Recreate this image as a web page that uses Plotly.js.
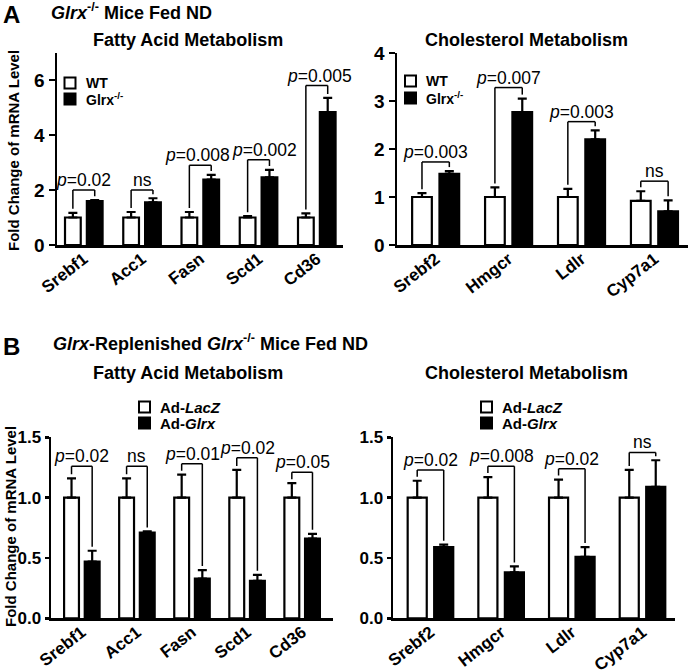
<!DOCTYPE html>
<html><head><meta charset="utf-8">
<script src="https://cdn.plot.ly/plotly-3.0.1.min.js"></script>
<style>html,body{margin:0;padding:0;background:#fff}#chart{width:693px;height:671px}</style>
</head><body><div id="chart"></div>
<script>
// ---------- data ----------
const faGenes = ['Srebf1','Acc1','Fasn','Scd1','Cd36'];
const cholGenes = ['Srebf2','Hmgcr','Ldlr','Cyp7a1'];

// Panel A: Glrx-/- mice fed ND
const aFaWT = [1.0, 1.0, 1.0, 1.0, 1.0];
const aFaWTsem = [0.17, 0.2, 0.2, 0.05, 0.15];
const aFaKO = [1.6, 1.55, 2.38, 2.46, 4.83];
const aFaKOsem = [0.03, 0.15, 0.17, 0.27, 0.52];
const aFaP = ['p=0.02', 'ns', 'p=0.008', 'p=0.002', 'p=0.005'];
const aFaBracket = [2.0, 2.0, 2.9, 3.1, 5.8];

const aChWT = [1.0, 1.0, 1.0, 0.92];
const aChWTsem = [0.08, 0.2, 0.17, 0.2];
const aChKO = [1.48, 2.77, 2.2, 0.7];
const aChKOsem = [0.06, 0.28, 0.19, 0.23];
const aChP = ['p=0.003', 'p=0.007', 'p=0.003', 'ns'];
const aChBracket = [1.73, 3.28, 2.57, 1.33];

// Panel B: Glrx-replenished Glrx-/- mice fed ND
const bFaLacZ = [1.0, 1.0, 1.0, 1.0, 1.0];
const bFaLacZsem = [0.16, 0.16, 0.19, 0.23, 0.12];
const bFaGlrx = [0.47, 0.71, 0.33, 0.31, 0.66];
const bFaGlrxsem = [0.09, 0.01, 0.07, 0.05, 0.04];
const bFaP = ['p=0.02', 'ns', 'p=0.01', 'p=0.02', 'p=0.05'];
const bFaBracket = [1.26, 1.26, 1.28, 1.33, 1.21];

const bChLacZ = [1.0, 1.0, 1.0, 1.0];
const bChLacZsem = [0.14, 0.17, 0.15, 0.23];
const bChGlrx = [0.59, 0.38, 0.51, 1.09];
const bChGlrxsem = [0.02, 0.05, 0.08, 0.22];
const bChP = ['p=0.02', 'p=0.008', 'p=0.02', 'ns'];
const bChBracket = [1.23, 1.26, 1.24, 1.375];

const aTicks = [0, 2, 4, 6];
const aChTicks = [0, 1, 2, 3, 4];
const bTicks = [0, 0.5, 1.0, 1.5];
const bTickText = ['0.0', '0.5', '1.0', '1.5'];

const aLegend = ['WT', 'Glrx<sup>-/-</sup>'];
const bLegend = ['Ad-<i>LacZ</i>', 'Ad-<i>Glrx</i>'];

const panelATitle = '<i>Glrx</i><sup>-/-</sup> Mice Fed ND';
const panelBTitle = '<i>Glrx</i>-Replenished <i>Glrx</i><sup>-/-</sup> Mice Fed ND';
const faTitle = 'Fatty Acid Metabolism';
const chTitle = 'Cholesterol Metabolism';
const yTitle = 'Fold Change of mRNA Level';

// ---------- layout helpers ----------
const W = 693, H = 671;
const FONT = 'Liberation Sans, Arial, Helvetica, sans-serif';
const BW = 0.27, SEP = 0.375;

const panels = [
  {genes: faGenes, c: aFaWT, cE: aFaWTsem, t: aFaKO, tE: aFaKOsem, p: aFaP, br: aFaBracket,
   leg: aLegend, xPx: [57, 343], yPx: [245, 52.5], yRange: [0, 7], xRange: [-0.46, 4.45],
   ticks: aTicks, tickText: aTicks.map(String), tf: 19, tl: 6, legPx: [64.5, 83, 99], legFont: 14,
   nudge: [0, 0, -0.04, 0.1, 0.05]},
  {genes: cholGenes, c: aChWT, cE: aChWTsem, t: aChKO, tE: aChKOsem, p: aChP, br: aChBracket,
   leg: aLegend, xPx: [397, 688], yPx: [245, 53], yRange: [0, 4], xRange: [-0.53, 3.46],
   ticks: aChTicks, tickText: aChTicks.map(String), tf: 19, tl: 6, legPx: [405, 81, 98], legFont: 14,
   nudge: [0, 0, 0, 0]},
  {genes: faGenes, c: bFaLacZ, cE: bFaLacZsem, t: bFaGlrx, tE: bFaGlrxsem, p: bFaP, br: bFaBracket,
   leg: bLegend, xPx: [51, 333], yPx: [618.3, 437.3], yRange: [0, 1.5], xRange: [-0.56, 4.56],
   ticks: bTicks, tickText: bTickText, tf: 17, tl: 4, legPx: [139, 407, 423], legFont: 15,
   nudge: [0, 0, 0, 0, 0]},
  {genes: cholGenes, c: bChLacZ, cE: bChLacZsem, t: bChGlrx, tE: bChGlrxsem, p: bChP, br: bChBracket,
   leg: bLegend, xPx: [393, 675], yPx: [618.3, 437.3], yRange: [0, 1.5], xRange: [-0.53, 3.46],
   ticks: bTicks, tickText: bTickText, tf: 17, tl: 4, legPx: [481, 407, 423], legFont: 15,
   nudge: [0, 0, 0, 0]}
];

const data = [];
const shapes = [];
const annotations = [];
const layout = {
  width: W, height: H, margin: {l: 0, r: 0, t: 0, b: 0},
  paper_bgcolor: '#fff', plot_bgcolor: 'rgba(0,0,0,0)',
  showlegend: false, barmode: 'overlay',
  font: {family: FONT, color: '#000'}
};

function fmtP(s) { return s.replace(/^p=/, '<i>p</i>='); }

panels.forEach((P, k) => {
  const sx = k === 0 ? '' : String(k + 1);
  const xa = 'x' + sx, ya = 'y' + sx;
  const pxPerUnit = (P.yPx[0] - P.yPx[1]) / (P.yRange[1] - P.yRange[0]);
  const gap = 4 / pxPerUnit;

  const errStyle = (arr) => ({type: 'data', symmetric: false, array: arr,
    arrayminus: arr.map(() => 0), color: '#000', thickness: 2.2, width: 4.5});

  data.push({type: 'bar', x: P.genes, y: P.c, xaxis: xa, yaxis: ya, name: P.leg[0],
    width: BW, offset: -SEP / 2 - BW / 2,
    marker: {color: '#ffffff', line: {color: '#000', width: 2.2}},
    error_y: errStyle(P.cE), hoverinfo: 'skip'});
  data.push({type: 'bar', x: P.genes, y: P.t, xaxis: xa, yaxis: ya, name: P.leg[1],
    width: BW, offset: SEP / 2 - BW / 2,
    marker: {color: '#000000', line: {color: '#000', width: 2.2}},
    error_y: errStyle(P.tE), hoverinfo: 'skip'});

  layout['xaxis' + sx] = {
    domain: [P.xPx[0] / W, P.xPx[1] / W], anchor: ya, type: 'category',
    range: P.xRange, showline: true, linecolor: '#000', linewidth: 2.5,
    ticks: '', tickangle: -38, ticklabelstandoff: -5, showgrid: false, zeroline: false,
    tickfont: {family: FONT, size: 17, weight: 'bold', color: '#000'}
  };
  layout['yaxis' + sx] = {
    domain: [1 - P.yPx[0] / H, 1 - P.yPx[1] / H], anchor: xa,
    range: P.yRange, tickvals: P.ticks, ticktext: P.tickText,
    showline: true, linecolor: '#000', linewidth: 2.5,
    ticks: 'outside', ticklen: P.tl, tickwidth: 2.5, tickcolor: '#000',
    showgrid: false, zeroline: false,
    tickfont: {family: FONT, size: P.tf, weight: 'bold', color: '#000'}
  };

  // significance brackets
  P.genes.forEach((g, i) => {
    const xl = i - SEP / 2, xr = i + SEP / 2;
    const yl = P.c[i] + P.cE[i] + gap, yr = P.t[i] + P.tE[i] + gap;
    const yb = P.br[i];
    const ln = {color: '#000', width: 1.5};
    shapes.push({type: 'line', xref: xa, yref: ya, x0: xl, x1: xl, y0: yl, y1: yb, line: ln});
    shapes.push({type: 'line', xref: xa, yref: ya, x0: xl, x1: xr, y0: yb, y1: yb, line: ln});
    shapes.push({type: 'line', xref: xa, yref: ya, x0: xr, x1: xr, y0: yr, y1: yb, line: ln});
    annotations.push({xref: xa, yref: ya, x: i + P.nudge[i], y: yb, yanchor: 'bottom', xanchor: 'center',
      yshift: -2, text: fmtP(P.p[i]), showarrow: false,
      font: {family: FONT, size: 17.5, color: '#000'}});
  });

  // legend (swatch + label)
  const [lx, ly1, ly2] = P.legPx;
  const fills = ['#ffffff', '#000000'];
  [ly1, ly2].forEach((ly, j) => {
    shapes.push({type: 'rect', xref: 'paper', yref: 'paper',
      x0: lx / W, x1: (lx + 11) / W, y0: 1 - (ly + 5.5) / H, y1: 1 - (ly - 5.5) / H,
      fillcolor: fills[j], line: {color: '#000', width: 2}});
    annotations.push({xref: 'paper', yref: 'paper', x: (lx + 19) / W, y: 1 - ly / H,
      xanchor: 'left', yanchor: 'middle', text: '<b>' + P.leg[j] + '</b>', showarrow: false,
      font: {family: FONT, size: P.legFont, color: '#000'}});
  });
});

// titles
function paperText(text, xpx, ypx, size, xanchor, angle) {
  annotations.push({xref: 'paper', yref: 'paper', x: xpx / W, y: 1 - ypx / H,
    xanchor: xanchor || 'center', yanchor: 'middle', text: text, showarrow: false,
    textangle: angle || 0, font: {family: FONT, size: size, color: '#000'}});
}
paperText('<b>A</b>', 1, 14, 24, 'left');
paperText('<b>' + panelATitle + '</b>', 49, 12, 18, 'left');
paperText('<b>B</b>', 1, 347, 24, 'left');
paperText('<b>' + panelBTitle + '</b>', 51, 342, 18, 'left');
paperText('<b>' + faTitle + '</b>', 187.5, 40, 18);
paperText('<b>' + chTitle + '</b>', 526.5, 40, 18);
paperText('<b>' + faTitle + '</b>', 187.5, 373, 18);
paperText('<b>' + chTitle + '</b>', 526.5, 373, 18);
paperText('<b>' + yTitle + '</b>', 13, 151, 15, 'center', -90);
paperText('<b>' + yTitle + '</b>', 10, 527, 15, 'center', -90);

layout.shapes = shapes;
layout.annotations = annotations;

Plotly.newPlot('chart', data, layout, {displayModeBar: false, staticPlot: true});
</script>
</body></html>
